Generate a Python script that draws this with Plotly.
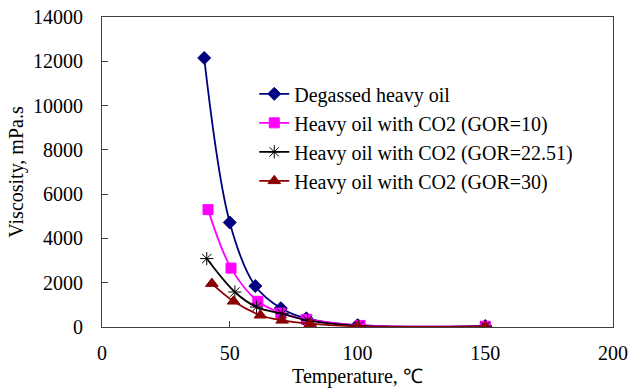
import plotly.graph_objects as go

# Temperature (°C) and viscosity (mPa.s) measurements
temp_degassed = [40, 50, 60, 70, 80, 100, 150]
visc_degassed = [12150, 4720, 1850, 850, 390, 80, 40]

temp_gor10 = [41.5, 50.5, 61, 70, 80, 101, 150]
visc_gor10 = [5300, 2660, 1160, 630, 350, 70, 35]

temp_gor22 = [41, 52, 60.5, 70.5, 80.5, 100.5, 150]
visc_gor22 = [3090, 1580, 900, 600, 300, 50, 30]

temp_gor30 = [43, 51.5, 62, 70.5, 81.5, 100, 150]
visc_gor30 = [1960, 1160, 530, 300, 150, 30, 20]

series_names = [
    "Degassed heavy oil",
    "Heavy oil with CO2 (GOR=10)",
    "Heavy oil with CO2 (GOR=22.51)",
    "Heavy oil with CO2 (GOR=30)",
]

FONT = "Liberation Serif, serif"

styles = [
    dict(color="#000080", symbol="diamond", size=10),
    dict(color="#FF00FF", symbol="square", size=10),
    dict(color="#000000", symbol="asterisk-open", size=11),
    dict(color="#8B0000", symbol="triangle-up", size=11),
]

data = [
    (temp_degassed, visc_degassed),
    (temp_gor10, visc_gor10),
    (temp_gor22, visc_gor22),
    (temp_gor30, visc_gor30),
]

fig = go.Figure()
for i, ((xs, ys), name, st) in enumerate(zip(data, series_names, styles)):
    fig.add_trace(go.Scatter(
        x=xs, y=ys, name=name, mode="lines+markers",
        legendgroup=f"g{i}",
        line=dict(color=st["color"], width=1.8, shape="spline", smoothing=1.0),
        marker=dict(color=st["color"], symbol=st["symbol"], size=st["size"],
                    line=dict(color=st["color"], width=1)),
    ))

axis_common = dict(
    showline=True, linecolor="#404040", linewidth=1, mirror=True,
    ticks="inside", ticklen=6, tickcolor="#404040",
    showgrid=False, zeroline=False, automargin=False,
    tickfont=dict(family=FONT, size=20, color="#000000"),
)

fig.update_layout(
    width=635, height=388,
    margin=dict(l=102, r=22, t=17, b=61),
    paper_bgcolor="white", plot_bgcolor="white",
    font=dict(family=FONT, size=20, color="#000000"),
    showlegend=True,
    legend=dict(
        x=0.298, y=0.815, xanchor="left", yanchor="top",
        bgcolor="rgba(0,0,0,0)", borderwidth=0,
        font=dict(family=FONT, size=20, color="#000000"),
        tracegroupgap=0, itemwidth=30,
    ),
    xaxis=dict(range=[0, 200], tickvals=[0, 50, 100, 150, 200],
               ticklabelstandoff=8,
               title=dict(text="Temperature, ℃", font=dict(family=FONT, size=20), standoff=10),
               **axis_common),
    yaxis=dict(range=[0, 14000], tickvals=list(range(0, 14001, 2000)),
               tickformat="d", ticklabelstandoff=14,
               title=dict(text="Viscosity, mPa.s", font=dict(family=FONT, size=20), standoff=4),
               **axis_common),
)

fig.write_html("out.html")
